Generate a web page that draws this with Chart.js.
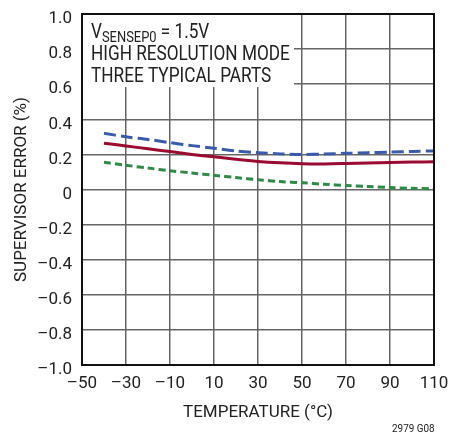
<!DOCTYPE html>
<html>
<head>
<meta charset="utf-8">
<script src="https://cdn.jsdelivr.net/npm/chart.js@4"></script>
<style>
  html, body { margin: 0; padding: 0; background: #fff; }
  #wrap { width: 449px; height: 436px; }
</style>
</head>
<body>
<div id="wrap"><canvas id="chart" width="449" height="436"></canvas></div>
<script>
// temperatures (°C)
const temps = [-40, -30, -20, -10, 0, 10, 20, 30, 40, 50, 60, 70, 80, 90, 100, 110];
// supervisor error (%) for three typical parts
const partA = [0.32, 0.30, 0.285, 0.267, 0.25, 0.235, 0.22, 0.21, 0.203, 0.20, 0.202, 0.206, 0.21, 0.213, 0.217, 0.22];
const partB = [0.264, 0.248, 0.232, 0.216, 0.20, 0.186, 0.172, 0.16, 0.152, 0.147, 0.146, 0.148, 0.151, 0.154, 0.156, 0.158];
const partC = [0.155, 0.138, 0.122, 0.107, 0.094, 0.081, 0.068, 0.056, 0.045, 0.039, 0.03, 0.023, 0.017, 0.011, 0.007, 0.004];

const FONT = '"Liberation Sans Narrow", "Roboto", sans-serif';
const pts = arr => arr.map((v, i) => ({ x: temps[i], y: v }));
const minus = s => String(s).replace('-', '\u2013');

// draw text squeezed horizontally (condensed look)
function narrowText(ctx, txt, x, y, sx) {
  ctx.save();
  ctx.translate(x, y);
  ctx.scale(sx, 1);
  ctx.fillText(txt, 0, 0);
  const w = ctx.measureText(txt).width * sx;
  ctx.restore();
  return w;
}

// white box behind the notes + frame + figure id
const notes = {
  id: 'notes',
  beforeDatasetsDraw(chart) {
    const { ctx, chartArea: a } = chart;
    ctx.save();
    ctx.fillStyle = '#fff';
    ctx.fillRect(a.left + 1, a.top + 1, 211, 72);
    ctx.restore();
  },
  afterDraw(chart) {
    const { ctx, chartArea: a } = chart;
    ctx.save();
    ctx.strokeStyle = '#111';
    ctx.lineWidth = 2;
    ctx.strokeRect(a.left, a.top, a.right - a.left, a.bottom - a.top);

    ctx.fillStyle = '#222';
    ctx.textBaseline = 'alphabetic';
    const sx = 0.86;
    let x = a.left + 9;
    ctx.font = '20px ' + FONT;
    x += narrowText(ctx, 'V', x, a.top + 24, sx);
    ctx.font = '15px ' + FONT;
    x += narrowText(ctx, 'SENSEP0', x, a.top + 28, sx);
    ctx.font = '20px ' + FONT;
    narrowText(ctx, ' = 1.5V', x, a.top + 24, sx);
    narrowText(ctx, 'HIGH RESOLUTION MODE', a.left + 9, a.top + 46, sx);
    narrowText(ctx, 'THREE TYPICAL PARTS', a.left + 9, a.top + 68, sx);

    ctx.font = '11px ' + FONT;
    narrowText(ctx, '2979 G08', 392, 432, 0.9);
    ctx.restore();
  }
};

new Chart(document.getElementById('chart'), {
  type: 'line',
  data: {
    datasets: [
      { data: pts(partA), borderColor: '#3b5ba9', borderWidth: 3, borderDash: [12, 5], pointRadius: 0, tension: 0.3 },
      { data: pts(partB), borderColor: '#9b0a30', borderWidth: 3, pointRadius: 0, tension: 0.3 },
      { data: pts(partC), borderColor: '#2f8a48', borderWidth: 3, borderDash: [7, 4], pointRadius: 0, tension: 0.3 }
    ]
  },
  plugins: [notes],
  options: {
    responsive: false,
    animation: false,
    layout: { padding: { top: 14, right: 15, bottom: 0, left: 0 } },
    plugins: { legend: { display: false }, tooltip: { enabled: false } },
    scales: {
      x: {
        type: 'linear', min: -50, max: 110,
        afterFit: s => { s.height = 71; s.paddingLeft = 0; s.paddingRight = 0; },
        grid: { color: '#666', lineWidth: 1.5, drawTicks: false },
        border: { display: false },
        ticks: { stepSize: 20, padding: 9, color: '#222', font: { family: FONT, size: 17 }, callback: v => minus(v) },
        title: { display: true, text: 'TEMPERATURE (°C)', color: '#222', font: { family: FONT, size: 17 }, padding: { top: 4, bottom: 13 } }
      },
      y: {
        min: -1, max: 1,
        afterFit: s => { s.width = 82; s.paddingTop = 0; s.paddingBottom = 0; },
        grid: { color: '#666', lineWidth: 1.5, drawTicks: false },
        border: { display: false },
        ticks: { stepSize: 0.2, padding: 10, labelOffset: 5, color: '#222', font: { family: FONT, size: 17 },
          callback: v => Math.abs(v) < 1e-9 ? '0' : minus(v.toFixed(1)) },
        title: { display: true, text: 'SUPERVISOR ERROR (%)', color: '#222', font: { family: FONT, size: 17 }, padding: { top: 12, bottom: 4 } }
      }
    }
  }
});
</script>
</body>
</html>
